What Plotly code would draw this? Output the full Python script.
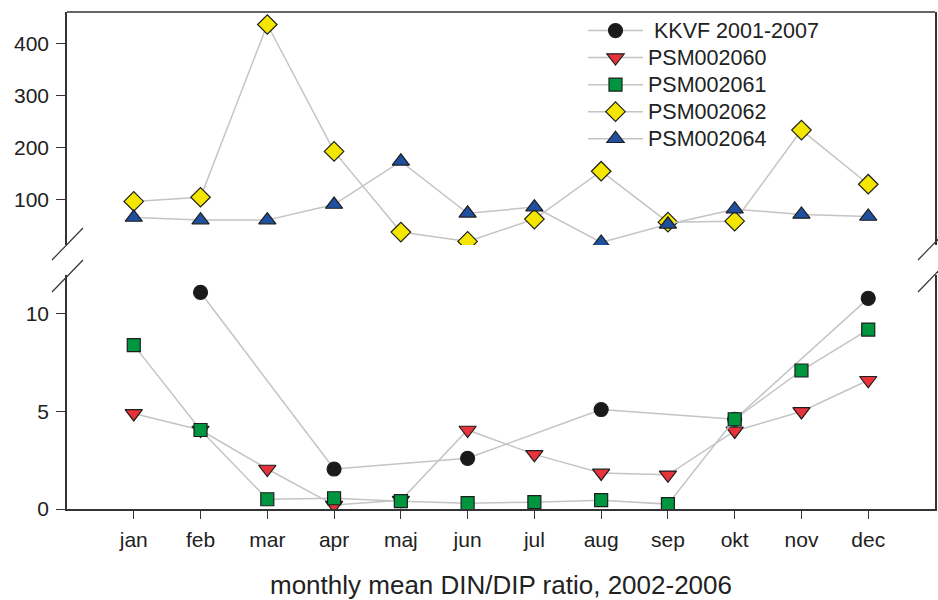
import plotly.graph_objects as go

months = ["jan", "feb", "mar", "apr", "maj", "jun", "jul", "aug", "sep", "okt", "nov", "dec"]

kkvf = [None, 11.1, None, 2.05, None, 2.6, None, 5.1, None, 4.6, None, 10.8]
psm060 = [4.9, 4.05, 2.05, 0.2, 0.45, 4.05, 2.8, 1.85, 1.75, 4.0, 5.0, 6.6]
psm061 = [8.4, 4.05, 0.5, 0.55, 0.4, 0.3, 0.35, 0.45, 0.25, 4.6, 7.1, 9.2]
psm062 = [96, 104, 436, 192, 37, 19, 62, 154, 56, 58, 233, 129]
psm064 = [65, 60, 60, 90, 173, 73, 85, 17, 52, 81, 71, 67]

series_names = ["\u00a0KKVF 2001-2007", "PSM002060", "PSM002061", "PSM002062", "PSM002064"]

FONT = "Liberation Sans, Arial, sans-serif"
TXT = "#222222"
LINE = "#c4c4c4"
EDGE = "#1e1e1e"

fig = go.Figure()

def add(name, y, symbol, color, size, yaxis):
    fig.add_trace(go.Scatter(
        x=months, y=y, name='<span style="font-size:21.5px">' + name + '</span>',
        mode="lines+markers", connectgaps=True,
        yaxis=yaxis,
        line=dict(color=LINE, width=1.5),
        marker=dict(symbol=symbol, color=color, size=size,
                    line=dict(color=EDGE, width=1.2)),
    ))

add(series_names[0], kkvf, "circle", "#1a1a1a", 14, "y")
add(series_names[1], psm060, "triangle-down", "#e8333b", 15, "y")
add(series_names[2], psm061, "square", "#00963f", 13, "y")
add(series_names[3], psm062, "diamond", "#f4e600", 15, "y2")
add(series_names[4], psm064, "triangle-up", "#1f50a0", 15, "y2")

W, H = 938, 600
ML, MR, MT, MB = 67, 3, 12, 91
PW, PH = W - ML - MR, H - MT - MB

def px(x):
    return (x - ML) / PW

def py(y):
    return (H - MB - y) / PH

shapes = [dict(type="line", xref="paper", yref="paper", x0=0, x1=1, y0=1, y1=1,
               line=dict(color="#333333", width=1.6))]
for (x0, y0, x1, y1) in [(52, 260, 83, 228), (52, 292, 83, 260),
                         (918, 260, 949, 228), (918, 292, 949, 260)]:
    shapes.append(dict(type="line", xref="paper", yref="paper",
                       x0=px(x0), y0=py(y0), x1=px(x1), y1=py(y1),
                       line=dict(color="#333333", width=1.2)))

axis_common = dict(showline=True, linecolor="#333333", linewidth=1.6,
                   ticks="outside", ticklen=9, tickwidth=1.2, tickcolor="#333333",
                   showgrid=False, zeroline=False, automargin=False,
                   tickfont=dict(family=FONT, size=21, color=TXT))

fig.update_layout(
    width=W, height=H,
    margin=dict(l=ML, r=MR, t=MT, b=MB, autoexpand=False),
    paper_bgcolor="white", plot_bgcolor="white",
    showlegend=True,
    legend=dict(x=px(583), y=py(12), xanchor="left", yanchor="top",
                bgcolor="rgba(0,0,0,0)", itemwidth=55,
                font=dict(family=FONT, size=18.5, color=TXT),
                tracegroupgap=0),
    xaxis=dict(type="category", range=[-1, 12], anchor="y",
               title=dict(text="monthly mean DIN/DIP ratio, 2002-2006",
                          font=dict(family=FONT, size=26, color=TXT), standoff=30),
               ticklabelstandoff=3,
               **{**axis_common, "ticklen": 8}),
    yaxis=dict(domain=[0, 0.471], range=[0, 12], tickvals=[0, 5, 10],
               anchor="x", mirror=True, ticklabelstandoff=3, **axis_common),
    yaxis2=dict(domain=[0.531, 1], range=[12, 460], tickvals=[100, 200, 300, 400],
                anchor="x", mirror=True, ticklabelstandoff=3, **axis_common),
    shapes=shapes,
)

fig.write_html("out.html", config={"displayModeBar": False},
               post_script="document.body.style.margin='0px';")
